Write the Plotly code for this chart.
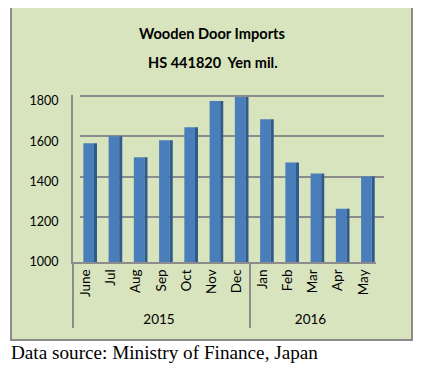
import plotly.graph_objects as go

months = ["June", "Jul", "Aug", "Sep", "Oct", "Nov", "Dec", "Jan", "Feb", "Mar", "Apr", "May"]
years = ["2015"] * 7 + ["2016"] * 5
values = [1590, 1625, 1520, 1605, 1670, 1800, 1820, 1710, 1495, 1440, 1265, 1425]
y_ticks = [1000, 1200, 1400, 1600, 1800]

# the page body has an 8px margin, so the figure is drawn 8px in from the corner
OFF = 8
W, H = 422 - OFF, 372 - OFF
def px(x):
    return (x - OFF) / W
def py(y):
    return 1 - (y - OFF) / H

FONT = "Lato"
GRID = "#8C8C8C"
BG = "#D7E4BD"

fig = go.Figure()

# invisible trace so that the back-wall subplot (gridlines) is drawn
fig.add_trace(go.Scatter(
    x=list(range(len(values))), y=values, mode="markers",
    marker=dict(opacity=0), showlegend=False, hoverinfo="skip",
))
# front face of columns
fig.add_trace(go.Bar(
    x=[years, months], y=values,
    xaxis="x2", yaxis="y2",
    marker=dict(color="#4A7EBB", line=dict(width=0)),
    width=0.42, offset=-0.09, showlegend=False, hoverinfo="skip",
))
# darker side face of columns
fig.add_trace(go.Bar(
    x=[years, months], y=values,
    xaxis="x2", yaxis="y2",
    marker=dict(color="#2F5A8C", line=dict(width=0)),
    width=0.12, offset=0.33, showlegend=False, hoverinfo="skip",
))

fig.update_layout(
    template="none",
    width=W, height=H,
    margin=dict(l=0, r=0, t=0, b=0, pad=0, autoexpand=False),
    paper_bgcolor="white",
    plot_bgcolor="rgba(0,0,0,0)",
    barmode="overlay",
    font=dict(family=FONT, color="black"),
    # back wall (gridlines)
    xaxis=dict(domain=[px(80), px(384)], range=[-0.5, 11.5], showgrid=False,
               showticklabels=False, zeroline=False, showline=False, ticks="",
               automargin=False),
    yaxis=dict(domain=[py(257), py(90)], range=[1000, 1830], tickvals=y_ticks,
               showgrid=True, gridcolor=GRID, gridwidth=2, showticklabels=False,
               zeroline=False, showline=False, ticks="", automargin=False),
    # front (bars and labels)
    xaxis2=dict(domain=[px(73), px(376)], anchor="y2", type="multicategory",
                showgrid=False, zeroline=False, showline=True, linecolor=GRID, linewidth=2,
                tickangle=-90, tickfont=dict(size=13.5, family=FONT),
                showdividers=True, dividercolor=GRID, dividerwidth=2, ticks="",
                automargin=False),
    yaxis2=dict(domain=[py(262), py(95)], anchor="x2", range=[1000, 1830],
                tickvals=y_ticks, showgrid=False, zeroline=False,
                showline=True, linecolor=GRID, linewidth=2, ticks="",
                tickfont=dict(size=12.5, family=FONT), ticklabelstandoff=10,
                automargin=False),
    shapes=[
        dict(type="rect", xref="paper", yref="paper", x0=px(11), x1=px(412),
             y0=py(340), y1=py(7), fillcolor=BG, line=dict(color="#8C8C8C", width=2),
             layer="below"),
    ],
    annotations=[
        dict(text="<b>Wooden Door Imports</b>", xref="paper", yref="paper",
             x=px(212), y=py(34), xanchor="center", yanchor="middle", showarrow=False,
             font=dict(size=14.6, family=FONT)),
        dict(text="<b>HS 441820&nbsp;&nbsp;Yen mil.</b>", xref="paper", yref="paper",
             x=px(213), y=py(62), xanchor="center", yanchor="middle", showarrow=False,
             font=dict(size=14.5, family=FONT)),
        dict(text="Data source: Ministry of Finance, Japan", xref="paper", yref="paper",
             x=px(9), y=py(352), xanchor="left", yanchor="middle", showarrow=False,
             font=dict(size=19.2, family="Liberation Serif")),
    ],
)

fig.write_html("out.html")
